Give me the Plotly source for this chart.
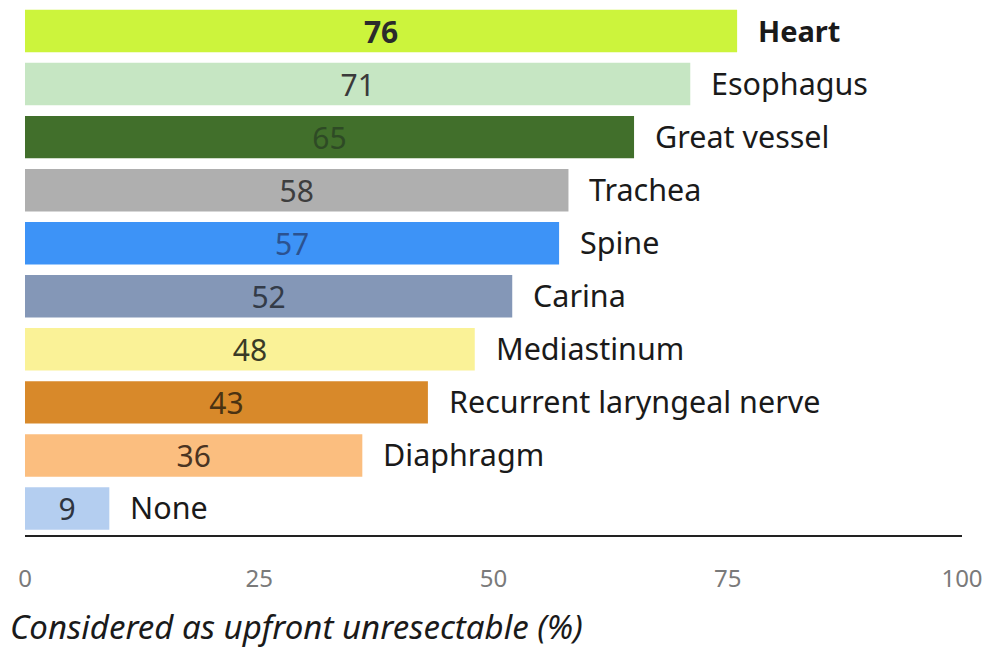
import plotly.graph_objects as go

categories = ["Heart", "Esophagus", "Great vessel", "Trachea", "Spine", "Carina",
              "Mediastinum", "Recurrent laryngeal nerve", "Diaphragm", "None"]
values = [76, 71, 65, 58, 57, 52, 48, 43, 36, 9]
bar_colors = ["#ccf43c", "#c6e6c3", "#416f2b", "#afafaf", "#3d93f7", "#8497b7",
              "#faf297", "#d8892a", "#fbbe7f", "#b4cef0"]
value_text_colors = ["#2b2b2b", "#3a3a3a", "#2e4a25", "#3e3e3e", "#2b5290", "#333b48",
                     "#3a3a26", "#4a3212", "#4a3422", "#2e3440"]
tick_vals = [0, 25, 50, 75, 100]
tick_text = ["0", "25", "50", "75", "100"]
x_title = "Considered as upfront unresectable (%)"

FONT = "Noto Sans"

value_labels = [f"<b>{v}</b>" if i == 0 else str(v) for i, v in enumerate(values)]

fig = go.Figure()
fig.add_trace(go.Bar(
    x=values, y=categories, orientation="h",
    marker=dict(color=bar_colors, line=dict(width=0)),
    text=value_labels, textposition="inside", insidetextanchor="middle",
    textangle=0, constraintext="none",
    textfont=dict(family=FONT, size=30, color=value_text_colors),
    hoverinfo="skip",
))

for i, (c, v) in enumerate(zip(categories, values)):
    fig.add_annotation(
        x=v, y=c, xref="x", yref="y",
        text=f"<b>{c}</b>" if i == 0 else c,
        showarrow=False, xanchor="left", yanchor="middle", xshift=19, yshift=1,
        font=dict(family=FONT, size=30.5 if i else 29, color="#1a1a1a"),
    )

fig.add_annotation(
    x=0, y=0, xref="paper", yref="paper", xanchor="left", yanchor="middle",
    xshift=-17, yshift=-91, showarrow=False,
    text=f"<i>{x_title}</i>",
    font=dict(family=FONT, size=33, color="#1a1a1a"),
)

fig.update_layout(
    width=986, height=644,
    margin=dict(l=17, r=32, t=0, b=117),
    paper_bgcolor="white", plot_bgcolor="white",
    bargap=0.2, showlegend=False,
    font=dict(family=FONT),
    xaxis=dict(range=[0, 100], tickvals=tick_vals, ticktext=tick_text,
               showgrid=False, zeroline=False, showline=True, linecolor="#222",
               linewidth=2, ticks="", ticklabelstandoff=21,
               tickfont=dict(family=FONT, size=24, color="#7a7a7a")),
    yaxis=dict(range=[9.5, -0.434], showticklabels=False, showgrid=False,
               zeroline=False, showline=False, ticks=""),
)

fig.write_html("out.html")
